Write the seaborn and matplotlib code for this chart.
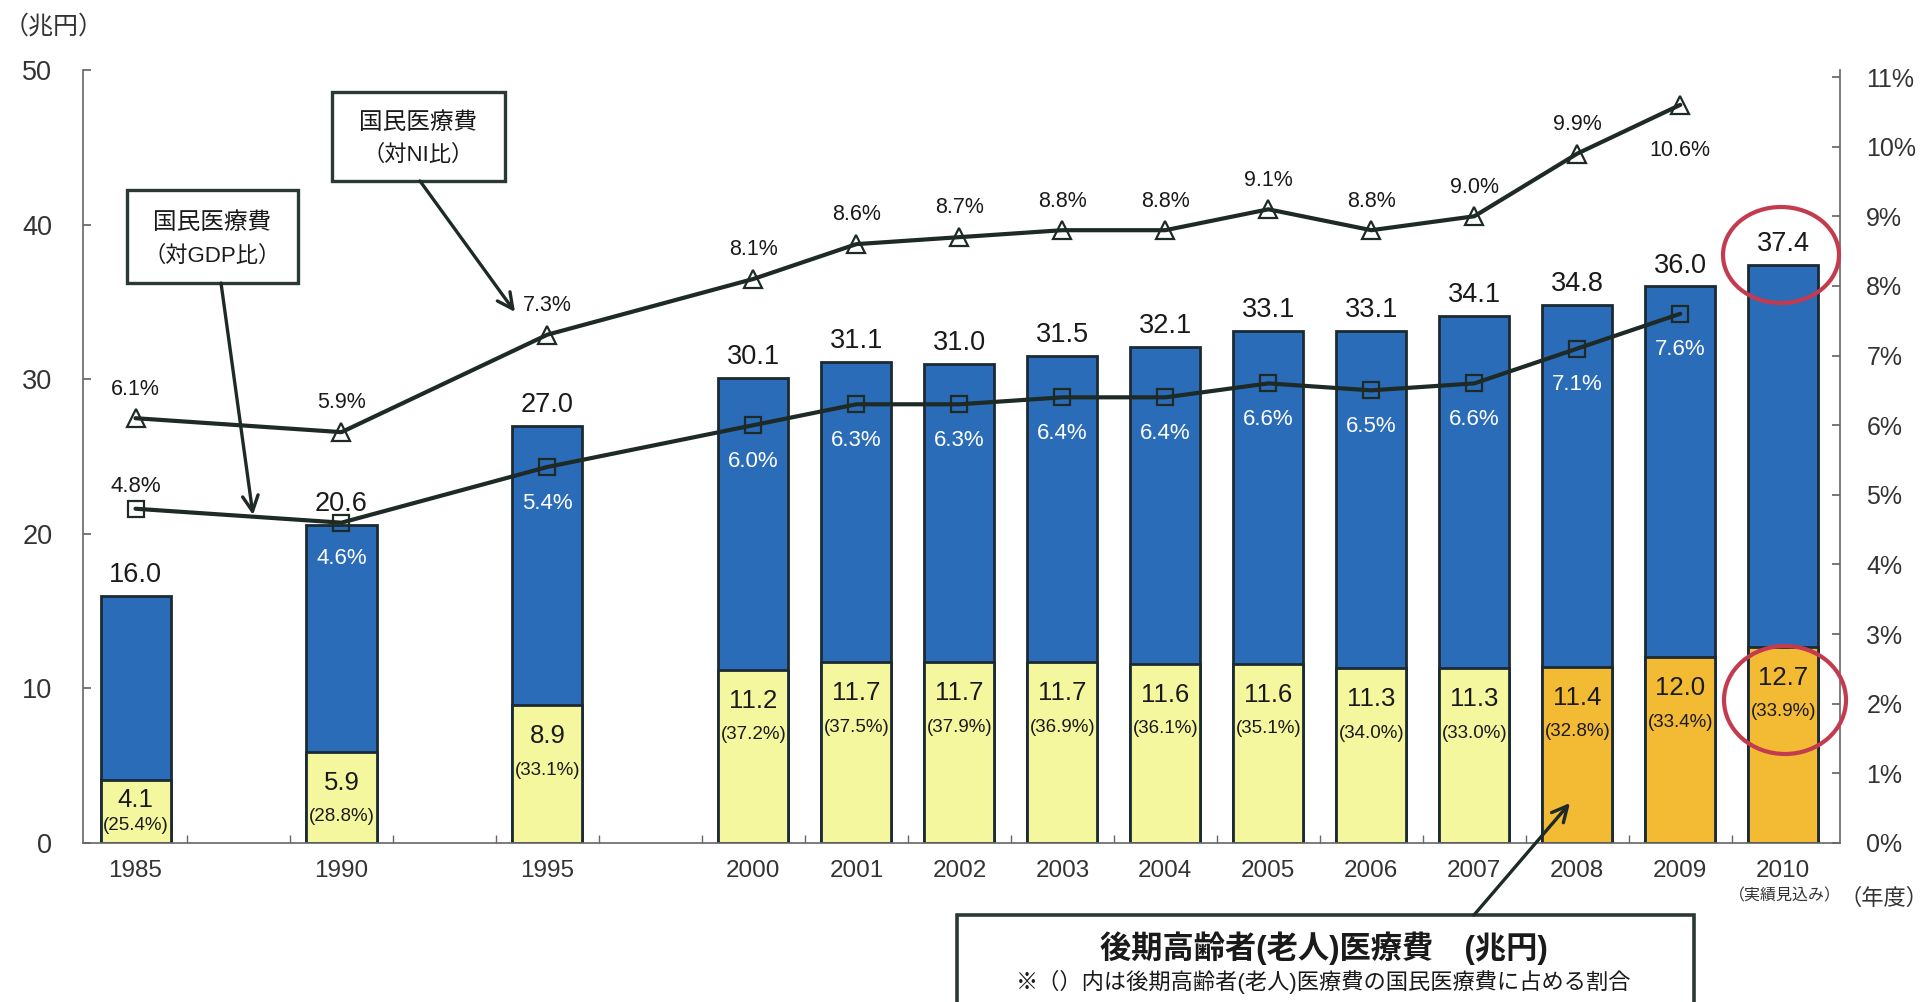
import numpy as np
import pandas as pd
import matplotlib
matplotlib.use("Agg")
import matplotlib.pyplot as plt
from matplotlib.patches import Rectangle, Ellipse
import seaborn as sns

# data
years = [1985, 1990, 1995, 2000, 2001, 2002, 2003, 2004, 2005, 2006, 2007, 2008, 2009, 2010]
total = [16.0, 20.6, 27.0, 30.1, 31.1, 31.0, 31.5, 32.1, 33.1, 33.1, 34.1, 34.8, 36.0, 37.4]
elderly = [4.1, 5.9, 8.9, 11.2, 11.7, 11.7, 11.7, 11.6, 11.6, 11.3, 11.3, 11.4, 12.0, 12.7]
elderly_share = [25.4, 28.8, 33.1, 37.2, 37.5, 37.9, 36.9, 36.1, 35.1, 34.0, 33.0, 32.8, 33.4, 33.9]
ni_ratio = [6.1, 5.9, 7.3, 8.1, 8.6, 8.7, 8.8, 8.8, 9.1, 8.8, 9.0, 9.9, 10.6]
gdp_ratio = [4.8, 4.6, 5.4, 6.0, 6.3, 6.3, 6.4, 6.4, 6.6, 6.5, 6.6, 7.1, 7.6]

BLUE = "#2B6CB8"
YELLOW = "#F4F79E"
ORANGE = "#F3BA34"
EDGE = "#1C2A33"
LINE = "#1E2A26"
TXT = "#1a1a1a"
RED = "#C43A4E"

sns.set_theme(style="ticks")
plt.rcParams["font.family"] = ["Liberation Sans", "Noto Sans CJK JP", "DejaVu Sans"]
plt.rcParams["axes.unicode_minus"] = False

yr = np.array(years)
pos = np.where(yr < 2000, (yr - 1985) / 2.5, yr - 1994)

df = pd.DataFrame({"pos": pos, "year": yr, "total": total, "elderly": elderly, "share": elderly_share})
lines = pd.DataFrame({"pos": pos[:len(ni_ratio)], "ni": ni_ratio, "gdp": gdp_ratio})

fig = plt.figure(figsize=(19.26, 10.02), dpi=100)
ax = fig.add_axes([0.0431, 0.1587, 0.9122, 0.7714])

bar_kw = dict(native_scale=True, width=0.68, edgecolor=EDGE, linewidth=2,
              saturation=1, errorbar=None, ax=ax)
sns.barplot(data=df, x="pos", y="total", color=BLUE, **bar_kw)
sns.barplot(data=df[df.year < 2008], x="pos", y="elderly", color=YELLOW, **bar_kw)
sns.barplot(data=df[df.year >= 2008], x="pos", y="elderly", color=ORANGE, **bar_kw)

ax.set_xlim(-0.51, 16.55)
ax.set_ylim(0, 50)
ax.set_xlabel("")
ax.set_ylabel("")
ax.set_xticks(pos, labels=[str(y) for y in years])
ax.set_xticks(np.arange(0.5, 16, 1), minor=True)
ax.set_yticks(range(0, 51, 10))
ax.tick_params(axis="x", which="major", length=0, pad=12, labelsize=17.5, labelcolor="#333")
ax.tick_params(axis="x", which="minor", direction="in", length=6, color="#666")
ax.tick_params(axis="y", direction="in", length=6, pad=22, labelsize=19.5, labelcolor="#333", color="#666")
for s in ["left", "bottom"]:
    ax.spines[s].set_color("#666")
    ax.spines[s].set_linewidth(1.2)
ax.spines["top"].set_visible(False)
ax.spines["right"].set_visible(False)

# labels on bars
for x, t, e, s in zip(pos, total, elderly, elderly_share):
    ax.annotate(f"{t:.1f}", (x, t), xytext=(0, 10), textcoords="offset points",
                ha="center", va="baseline", fontsize=19.5, color=TXT)
    pct_y = max(e - 4.2, 1.15)
    num_y = max(e - 2.0, pct_y + 1.6)
    ax.text(x, num_y, f"{e:.1f}", ha="center", va="center", fontsize=18.5, color=TXT)
    ax.text(x, pct_y, f"({s:.1f}%)", ha="center", va="center", fontsize=13.5, color=TXT)

# ratio lines on the right axis
ax2 = ax.twinx()
ax2.set_ylim(0, 11.1)
sns.lineplot(data=lines, x="pos", y="ni", ax=ax2, color=LINE, linewidth=3,
             marker="^", markersize=13, markerfacecolor="none",
             markeredgecolor=LINE, markeredgewidth=1.6)
sns.lineplot(data=lines, x="pos", y="gdp", ax=ax2, color=LINE, linewidth=3,
             marker="s", markersize=11, markerfacecolor="none",
             markeredgecolor=LINE, markeredgewidth=1.6)
ax2.set_xlim(-0.51, 16.55)
ax2.set_xlabel("")
ax2.set_ylabel("")
ax2.set_yticks(range(0, 12))
ax2.set_yticklabels([f"{i}%" for i in range(0, 12)])
ax2.tick_params(axis="y", direction="in", length=6, pad=19, labelsize=18, labelcolor="#333", color="#666")
ax2.spines["right"].set_color("#666")
ax2.spines["right"].set_linewidth(1.2)
for s in ["top", "left", "bottom"]:
    ax2.spines[s].set_visible(False)

n = len(ni_ratio)
for i, (x, v) in enumerate(zip(lines.pos, lines.ni)):
    dy = -33 if i == n - 1 else 21
    ax2.annotate(f"{v:.1f}%", (x, v), xytext=(0, dy), textcoords="offset points",
                 ha="center", va="center", fontsize=15.5, color=TXT)
for x, v, t in zip(lines.pos, lines.gdp, total):
    above = v * 50 / 11.1 > t + 2
    ax2.annotate(f"{v:.1f}%", (x, v), xytext=(0, 16 if above else -26),
                 textcoords="offset points", ha="center", va="center",
                 fontsize=16, color=TXT if above else "white")

# overlay in pixel coordinates for boxes, arrows and notes
ov = fig.add_axes([0, 0, 1, 1], zorder=10)
ov.set_xlim(0, 1926)
ov.set_ylim(1002, 0)
ov.axis("off")
ov.patch.set_alpha(0)

arrow = dict(arrowstyle="->", color=LINE, lw=2.4, mutation_scale=28, shrinkA=0, shrinkB=0)

ov.add_patch(Rectangle((332, 92), 173, 89, fc="white", ec="#2a3a33", lw=2.4))
ov.text(418, 123, "国民医療費", ha="center", va="center", fontsize=17, color=TXT)
ov.text(418, 155, "（対NI比）", ha="center", va="center", fontsize=16, color=TXT)
ov.annotate("", xy=(515, 312), xytext=(420, 181), arrowprops=arrow)

ov.add_patch(Rectangle((127, 190), 171, 93, fc="white", ec="#2a3a33", lw=2.4))
ov.text(212, 223, "国民医療費", ha="center", va="center", fontsize=17, color=TXT)
ov.text(212, 256, "（対GDP比）", ha="center", va="center", fontsize=16, color=TXT)
ov.annotate("", xy=(253, 515), xytext=(221, 283), arrowprops=arrow)

ov.add_patch(Rectangle((957, 915), 737, 100, fc="white", ec="#2a3a33", lw=2.6))
ov.text(1324, 948, "後期高齢者(老人)医療費　(兆円)", ha="center", va="center",
        fontsize=22.5, fontweight="bold", color=TXT)
ov.text(1324, 982, "※（）内は後期高齢者(老人)医療費の国民医療費に占める割合",
        ha="center", va="center", fontsize=16, color=TXT)
ov.annotate("", xy=(1570, 803), xytext=(1474, 915), arrowprops=arrow)

ov.add_patch(Ellipse((1781, 255), 116, 96, fc="none", ec=RED, lw=3))
ov.add_patch(Ellipse((1785, 700), 122, 108, fc="none", ec=RED, lw=3))

ov.text(54, 27, "（兆円）", ha="center", va="center", fontsize=18, color="#333")
ov.text(1884, 899, "（年度）", ha="center", va="center", fontsize=16, color="#333")
ov.text(1785, 896, "（実績見込み）", ha="center", va="center", fontsize=11.5, color="#333")

fig.savefig("out.png", dpi=100, facecolor="white")
